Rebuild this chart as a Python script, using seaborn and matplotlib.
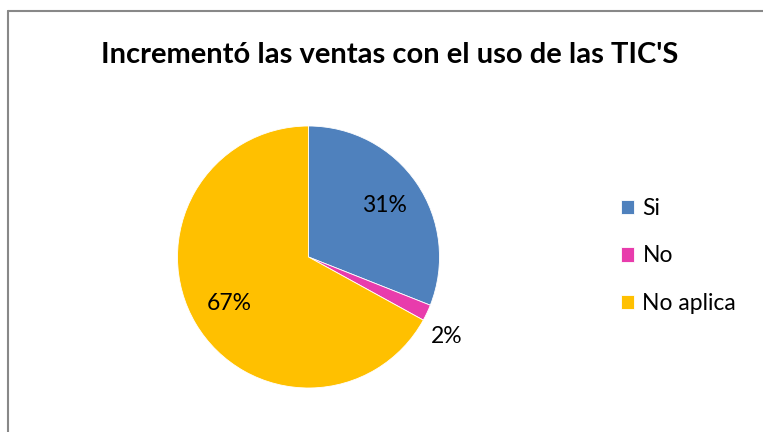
import matplotlib
matplotlib.use("Agg")
import matplotlib.pyplot as plt
import seaborn as sns
import numpy as np
from matplotlib.lines import Line2D

# ------------------ Data ------------------
categories = ["Si", "No", "No aplica"]
shares = [31, 2, 67]
colors = ["#4F81BD", "#E83CAC", "#FFC000"]
title = "Incrementó las ventas con el uso de las TIC'S"

sns.set_theme(style="white")
plt.rcParams["font.family"] = ["Lato", "DejaVu Sans"]
plt.rcParams["text.color"] = "black"

fig = plt.figure(figsize=(7.63, 4.32), dpi=100)
fig.patch.set_facecolor("white")

# chart frame (only left and top edges visible)
fig.add_artist(Line2D([7.5 / 763, 7.5 / 763], [0, 1 - 10.5 / 432], color="#888888", lw=1.5))
fig.add_artist(Line2D([7.5 / 763, 1], [1 - 10.5 / 432, 1 - 10.5 / 432], color="#888888", lw=1.5))

ax = fig.add_axes([(308.5 - 131) / 763, (175 - 131) / 432, 262 / 763, 262 / 432])
wedges, texts, autotexts = ax.pie(
    shares, colors=colors, startangle=90, counterclock=False,
    autopct="%1.0f%%", pctdistance=0.7, radius=1,
    wedgeprops=dict(linewidth=0.6, edgecolor="white"),
    textprops=dict(fontsize=16.5, color="black"),
)
# small slice label goes outside
for w, t, s in zip(wedges, autotexts, shares):
    if s < 5:
        ang = np.deg2rad((w.theta1 + w.theta2) / 2)
        t.set_position((1.17 * np.cos(ang), 1.17 * np.sin(ang) - 0.11))
ax.set_aspect("equal")
ax.set_xlim(-1, 1)
ax.set_ylim(-1, 1)
ax.axis("off")

fig.text(390 / 763, 1 - 55 / 432, title, ha="center", va="center",
         fontsize=21, fontweight="bold", color="black")

leg = fig.legend(wedges, categories, loc="center left",
                 bbox_to_anchor=(600 / 763, 1 - 256 / 432),
                 frameon=False, fontsize=16.5, handlelength=0.6, handleheight=0.6,
                 handletextpad=0.35, labelspacing=1.15, labelcolor="black")

fig.savefig("out.png", dpi=100, facecolor="white")
